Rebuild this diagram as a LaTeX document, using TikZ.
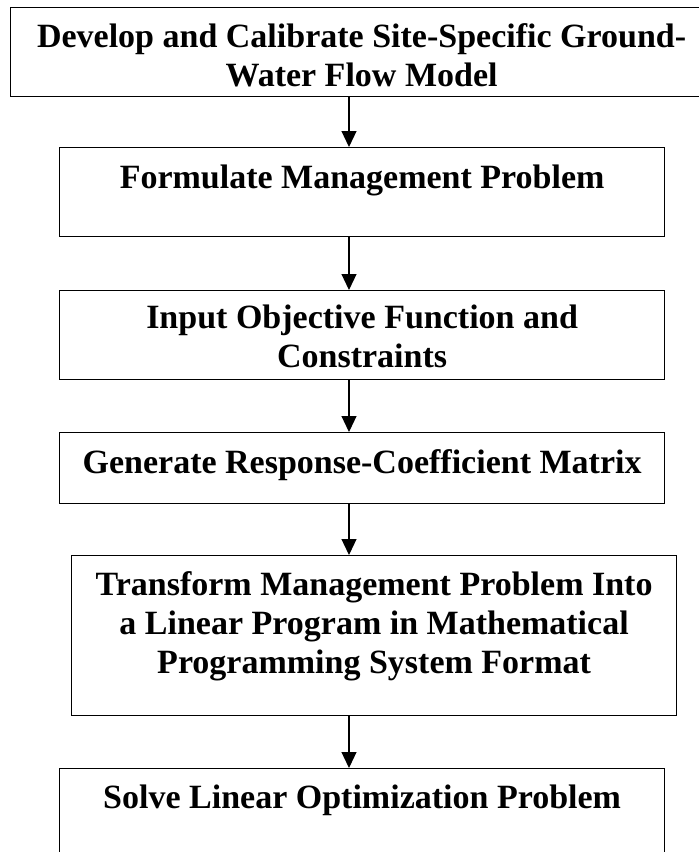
\documentclass[tikz,border=0pt]{standalone}
\usepackage{fontspec}
\setmainfont{Liberation Serif}
\usetikzlibrary{arrows.meta}
\newcommand{\bxt}[4]{\parbox[c][#1pt][t]{#2pt}{\centering\rule{0pt}{#3pt}#4}}
\begin{document}
\begin{tikzpicture}[x=1pt,y=-1pt,
  stepbox/.style={draw=black, line width=1.2pt, inner sep=0pt, anchor=north west,
    font=\fontsize{34}{39}\selectfont\bfseries},
  arr/.style={draw=black, line width=1.2pt, -{Triangle[width=15pt,length=16pt]}}]
\useasboundingbox (0,0) rectangle (699,852);
\fill[white] (0,0) rectangle (699,852);
\coordinate (ax) at (349,0);
\node[stepbox] (b1) at (10,7) {\bxt{89}{702}{40}{Develop and Calibrate Site-Specific Ground-\\Water Flow Model}};
\node[stepbox] (b2) at (59,147) {\bxt{89}{605}{41}{Formulate Management Problem}};
\node[stepbox] (b3) at (59,290) {\bxt{89}{605}{38}{Input Objective Function and\\Constraints}};
\node[stepbox] (b4) at (59,432) {\bxt{71}{605}{41}{Generate Response-Coefficient Matrix}};
\node[stepbox] (b5) at (71,555) {\bxt{160}{605}{40}{Transform Management Problem Into\\a Linear Program in Mathematical\\Programming System Format}};
\node[stepbox] (b6) at (59,768) {\bxt{92}{605}{40}{Solve Linear Optimization Problem}};
\draw[arr] (b1.south -| ax) -- (b2.north -| ax);
\draw[arr] (b2.south -| ax) -- (b3.north -| ax);
\draw[arr] (b3.south -| ax) -- (b4.north -| ax);
\draw[arr] (b4.south -| ax) -- (b5.north -| ax);
\draw[arr] (b5.south -| ax) -- (b6.north -| ax);
\end{tikzpicture}
\end{document}
